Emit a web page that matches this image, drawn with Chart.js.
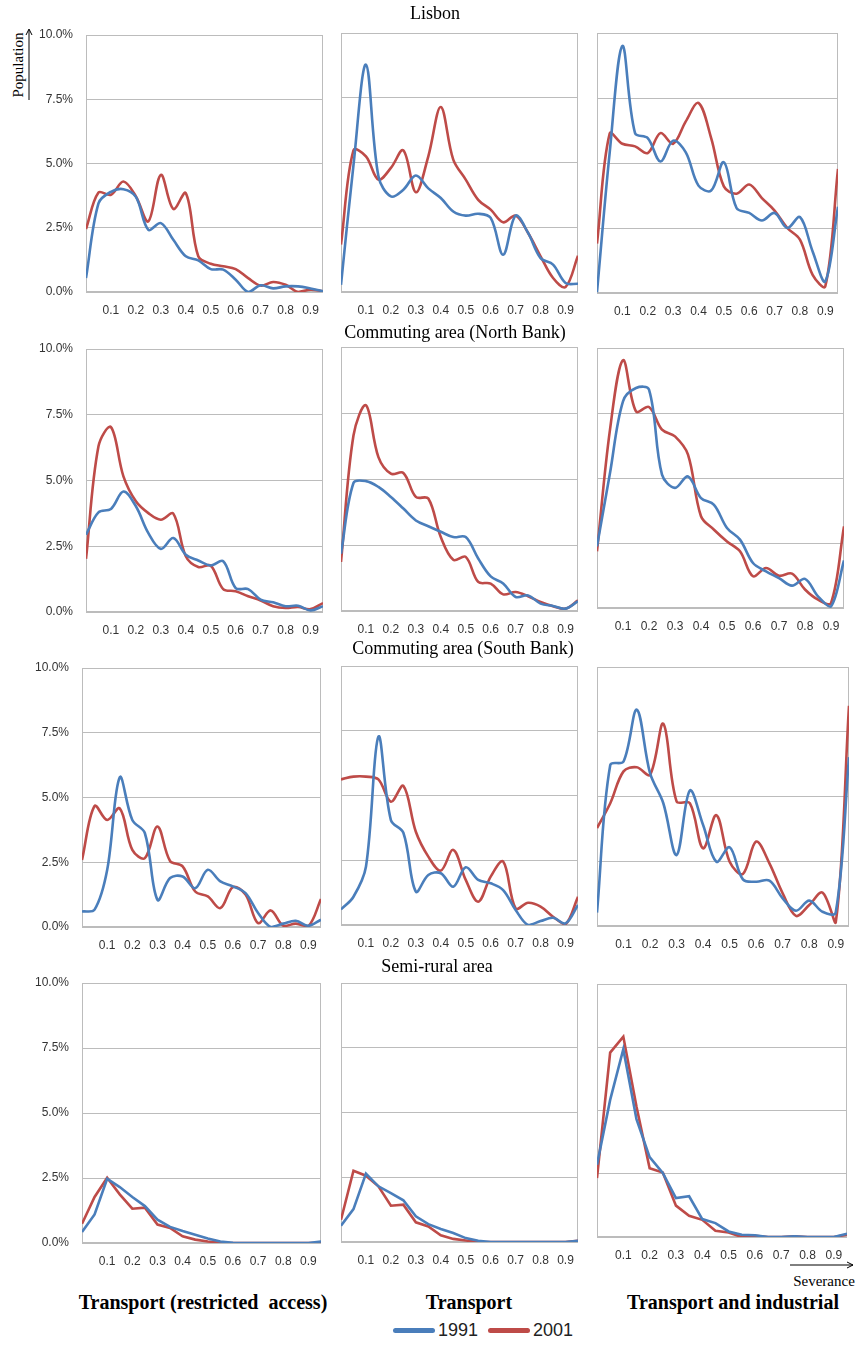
<!DOCTYPE html>
<html lang="en">
<head>
<meta charset="UTF-8">
<title>Population by severance</title>
<script src="https://cdn.jsdelivr.net/npm/chart.js"></script>
<style>
  body { margin: 0; background: #fff; width: 857px; height: 1346px; position: relative; overflow: hidden; font-family: "Liberation Serif", "Times New Roman", serif; }
  canvas.panel { position: absolute; }
  .lbl { position: absolute; white-space: pre; color: #000; transform: translate(-50%, -50%); }
  .title { font-size: 18px; }
  .col { font-size: 20px; font-weight: bold; }
  .legend { position: absolute; left: 393px; top: 1320px; font-family: "Liberation Sans", Arial, sans-serif; font-size: 18px; color: #222; display: flex; align-items: center; }
  .legend i { display: inline-block; width: 42px; height: 5px; border-radius: 3px; margin-right: 3px; }
  .legend span { margin-right: 10px; }
</style>
</head>
<body>
<svg width="857" height="1346" style="position:absolute;left:0;top:0">
  <line x1="29" y1="100" x2="29" y2="30" stroke="#000" stroke-width="1"/>
  <polyline points="26,35 29,29 32,35" fill="none" stroke="#000" stroke-width="1"/>
  <line x1="790" y1="1265" x2="853" y2="1265" stroke="#000" stroke-width="1"/>
  <polyline points="847,1262 853,1265 847,1268" fill="none" stroke="#000" stroke-width="1"/>
</svg>
<div class="lbl" style="left:18px;top:65px;transform:translate(-50%,-50%) rotate(-90deg);font-size:15px">Population</div>
<div class="lbl" style="left:824px;top:1281px;font-size:15px">Severance</div>
<div class="legend"><i style="background:#4a7ebb"></i><span>1991</span><i style="background:#be4b48"></i><span>2001</span></div>
<script>
const severance = [0, 0.05, 0.1, 0.15, 0.2, 0.25, 0.3, 0.35, 0.4, 0.45, 0.5, 0.55, 0.6, 0.65, 0.7, 0.75, 0.8, 0.85, 0.9, 0.95];
const xTickLabels = [0.1, 0.2, 0.3, 0.4, 0.5, 0.6, 0.7, 0.8, 0.9];
const yTickLabels = [0, 2.5, 5, 7.5, 10];
const areas = ['Lisbon', 'Commuting area (North Bank)', 'Commuting area (South Bank)', 'Semi-rural area'];
const barrierTypes = ['Transport (restricted  access)', 'Transport', 'Transport and industrial'];
const years = ['1991', '2001'];

// population share (%) per severance class
const lisbonRestricted1991 = [0.54, 3.45, 3.9, 4.0, 3.7, 2.42, 2.68, 2.03, 1.39, 1.23, 0.89, 0.87, 0.48, 0.0, 0.26, 0.14, 0.22, 0.22, 0.14, 0.03];
const lisbonRestricted2001 = [2.45, 3.87, 3.78, 4.3, 3.72, 2.75, 4.56, 3.23, 3.85, 1.39, 1.1, 1.0, 0.89, 0.54, 0.25, 0.39, 0.28, 0.0, 0.09, 0.03];
const lisbonTransport1991 = [0.28, 4.9, 8.78, 4.47, 3.69, 3.95, 4.5, 4.0, 3.63, 3.11, 2.95, 3.02, 2.86, 1.44, 2.95, 2.28, 1.31, 1.06, 0.35, 0.32];
const lisbonTransport2001 = [1.83, 5.47, 5.24, 4.34, 4.79, 5.47, 3.85, 5.24, 7.14, 5.11, 4.34, 3.56, 3.18, 2.69, 2.95, 2.28, 1.38, 0.54, 0.19, 1.40];
const lisbonIndustrial1991 = [0.03, 5.4, 9.5, 6.15, 5.96, 5.06, 5.86, 5.41, 4.13, 3.94, 5.03, 3.27, 3.08, 2.79, 3.08, 2.5, 2.92, 1.6, 0.45, 3.32];
const lisbonIndustrial2001 = [1.9, 6.13, 5.74, 5.64, 5.38, 6.15, 5.74, 6.6, 7.31, 5.96, 4.1, 3.82, 4.17, 3.65, 3.17, 2.5, 2.05, 0.7, 0.26, 4.77];

const northRestricted1991 = [2.94, 3.79, 3.92, 4.58, 4.02, 3.0, 2.4, 2.81, 2.18, 1.96, 1.77, 1.93, 0.91, 0.87, 0.47, 0.37, 0.22, 0.24, 0.06, 0.22];
const northRestricted2001 = [2.02, 6.3, 7.03, 5.16, 4.21, 3.76, 3.51, 3.74, 2.12, 1.71, 1.76, 0.87, 0.79, 0.6, 0.44, 0.22, 0.15, 0.19, 0.11, 0.34];
const northTransport1991 = [2.17, 4.85, 4.92, 4.7, 4.32, 3.88, 3.43, 3.21, 3.0, 2.8, 2.8, 1.99, 1.31, 1.04, 0.53, 0.59, 0.28, 0.19, 0.09, 0.37];
const northTransport2001 = [1.86, 6.65, 7.79, 5.83, 5.2, 5.23, 4.32, 4.26, 2.8, 1.94, 2.05, 1.1, 1.04, 0.63, 0.72, 0.56, 0.34, 0.18, 0.09, 0.4];
const northIndustrial1991 = [2.37, 5.19, 7.95, 8.46, 8.4, 5.13, 4.62, 5.06, 4.23, 3.97, 3.08, 2.63, 1.73, 1.41, 1.15, 0.86, 1.12, 0.45, 0.06, 1.83];
const northIndustrial2001 = [2.18, 6.86, 9.53, 7.56, 7.73, 6.86, 6.6, 5.9, 3.53, 3.01, 2.56, 2.18, 1.22, 1.54, 1.24, 1.32, 0.71, 0.32, 0.19, 3.14];

const southRestricted1991 = [0.6, 0.67, 2.2, 5.78, 4.13, 3.62, 1.05, 1.89, 1.95, 1.5, 2.21, 1.76, 1.57, 1.31, 0.54, 0.0, 0.13, 0.24, 0.05, 0.28];
const southRestricted2001 = [2.59, 4.67, 4.13, 4.58, 2.98, 2.66, 3.88, 2.55, 2.34, 1.37, 1.18, 0.73, 1.54, 1.25, 0.15, 0.64, 0.05, 0.13, 0.03, 1.08];
const southTransport1991 = [0.6, 1.09, 2.25, 7.27, 4.05, 3.56, 1.29, 1.93, 2.0, 1.48, 2.23, 1.74, 1.61, 1.35, 0.58, 0.0, 0.15, 0.28, 0.06, 0.77];
const southTransport2001 = [5.62, 5.73, 5.73, 5.62, 4.76, 5.37, 3.6, 2.64, 2.1, 2.9, 1.74, 0.9, 1.87, 2.45, 0.64, 0.86, 0.71, 0.32, 0.03, 1.09];
const southIndustrial1991 = [0.52, 6.22, 6.35, 8.35, 5.9, 4.74, 2.74, 5.23, 3.9, 2.48, 3.04, 1.8, 1.71, 1.75, 1.07, 0.59, 0.98, 0.55, 0.52, 6.52];
const southIndustrial2001 = [3.78, 4.74, 5.97, 6.13, 5.84, 7.81, 4.81, 4.74, 3.0, 4.28, 2.48, 2.01, 3.26, 2.42, 1.26, 0.39, 0.81, 1.29, 0.13, 8.5];

const ruralRestricted1991 = [0.42, 1.1, 2.47, 2.15, 1.77, 1.42, 0.9, 0.62, 0.46, 0.32, 0.17, 0.06, 0.01, 0, 0, 0, 0, 0, 0, 0.06];
const ruralRestricted2001 = [0.74, 1.77, 2.51, 1.87, 1.32, 1.36, 0.71, 0.58, 0.26, 0.13, 0.06, 0.01, 0, 0, 0, 0, 0, 0, 0, 0.01];
const ruralTransport1991 = [0.63, 1.27, 2.64, 2.15, 1.89, 1.61, 0.99, 0.69, 0.5, 0.35, 0.15, 0.05, 0, 0, 0, 0, 0, 0, 0, 0.05];
const ruralTransport2001 = [0.86, 2.75, 2.56, 2.15, 1.4, 1.44, 0.76, 0.6, 0.26, 0.12, 0.06, 0, 0, 0, 0, 0, 0, 0, 0, 0.05];
const ruralIndustrial1991 = [2.86, 5.42, 7.42, 4.66, 3.16, 2.53, 1.54, 1.61, 0.71, 0.55, 0.22, 0.09, 0.07, 0, 0, 0.03, 0, 0, 0, 0.13];
const ruralIndustrial2001 = [2.33, 7.29, 7.92, 5.16, 2.72, 2.55, 1.24, 0.84, 0.68, 0.25, 0.18, 0, 0.05, 0, 0, 0.03, 0, 0, 0, 0.09];

const series = [
  [[lisbonRestricted1991, lisbonRestricted2001], [lisbonTransport1991, lisbonTransport2001], [lisbonIndustrial1991, lisbonIndustrial2001]],
  [[northRestricted1991, northRestricted2001], [northTransport1991, northTransport2001], [northIndustrial1991, northIndustrial2001]],
  [[southRestricted1991, southRestricted2001], [southTransport1991, southTransport2001], [southIndustrial1991, southIndustrial2001]],
  [[ruralRestricted1991, ruralRestricted2001], [ruralTransport1991, ruralTransport2001], [ruralIndustrial1991, ruralIndustrial2001]]
];

// plot area of every panel: left, top, right, bottom
const plotBoxes = [
  [[86, 35, 323, 292], [341, 33, 578, 292], [597, 33, 838, 293]],
  [[86, 349, 323, 612], [341, 347, 578, 611], [597, 348, 844, 608]],
  [[82, 668, 321, 927], [341, 666, 578, 925], [597, 667, 849, 926]],
  [[82, 983, 321, 1243], [341, 983, 578, 1242], [597, 984, 847, 1237]]
];
const titlePos = [[435, 13], [455, 332], [463, 648], [437, 966]];
const colLabelPos = [[203, 1302], [469, 1302], [733, 1302]];
const colors = ['#4a7ebb', '#be4b48'];
const gridColor = '#bcbcbc';

const frame = {
  id: 'frame',
  beforeDatasetsDraw(chart) {
    const { ctx, chartArea: a } = chart;
    ctx.save();
    ctx.strokeStyle = gridColor;
    ctx.lineWidth = 1;
    ctx.strokeRect(a.left + 0.5, a.top + 0.5, a.right - a.left - 1, a.bottom - a.top - 1);
    ctx.restore();
  }
};

function addLabel(text, cls, x, y) {
  const d = document.createElement('div');
  d.className = 'lbl ' + cls;
  d.style.left = x + 'px';
  d.style.top = y + 'px';
  d.textContent = text;
  document.body.appendChild(d);
}

function makePanel(box, pair, showY, smooth) {
  const [l, t, r, b] = box;
  // padT/padR are larger than the scales' own label padding, so the plot area lands exactly on box
  const padL = 62, padT = 22, padR = 16, axisH = 30;
  const cv = document.createElement('canvas');
  cv.className = 'panel';
  cv.width = r - l + padL + padR;
  cv.height = b - t + padT + axisH;
  cv.style.left = (l - padL) + 'px';
  cv.style.top = (t - padT) + 'px';
  document.body.appendChild(cv);

  new Chart(cv, {
    type: 'line',
    data: {
      datasets: pair.map((vals, k) => ({
        label: years[k],
        data: severance.map((x, i) => ({ x: x, y: vals[i] })),
        borderColor: colors[k],
        backgroundColor: colors[k],
        borderWidth: 2.6,
        pointRadius: 0,
        tension: smooth ? 0.35 : 0,
        fill: false
      }))
    },
    options: {
      responsive: false,
      animation: false,
      layout: { padding: { top: padT, right: padR, left: 0, bottom: 0 } },
      plugins: { legend: { display: false }, tooltip: { enabled: false } },
      scales: {
        x: {
          type: 'linear', min: 0, max: 0.95,
          afterBuildTicks: s => { s.ticks = xTickLabels.map(v => ({ value: v })); },
          afterFit: s => { s.height = axisH; },
          ticks: { callback: v => v.toFixed(1), font: { family: 'Liberation Sans', size: 12 }, color: '#333', padding: 11, maxRotation: 0, autoSkip: false },
          grid: { display: false, drawTicks: false },
          border: { display: false }
        },
        y: {
          min: 0, max: 10,
          afterBuildTicks: s => { s.ticks = yTickLabels.map(v => ({ value: v })); },
          afterFit: s => { s.width = padL; },
          ticks: { display: showY, callback: v => v.toFixed(1) + '%', font: { family: 'Liberation Sans', size: 12 }, color: '#333', padding: 13 },
          grid: { color: gridColor, lineWidth: 1, drawTicks: false },
          border: { display: false }
        }
      }
    },
    plugins: [frame]
  });
}

series.forEach((row, ri) => {
  row.forEach((pair, ci) => makePanel(plotBoxes[ri][ci], pair, ci === 0, ri < 3));
  addLabel(areas[ri], 'title', titlePos[ri][0], titlePos[ri][1]);
});
barrierTypes.forEach((name, ci) => addLabel(name, 'col', colLabelPos[ci][0], colLabelPos[ci][1]));
</script>
</body>
</html>
